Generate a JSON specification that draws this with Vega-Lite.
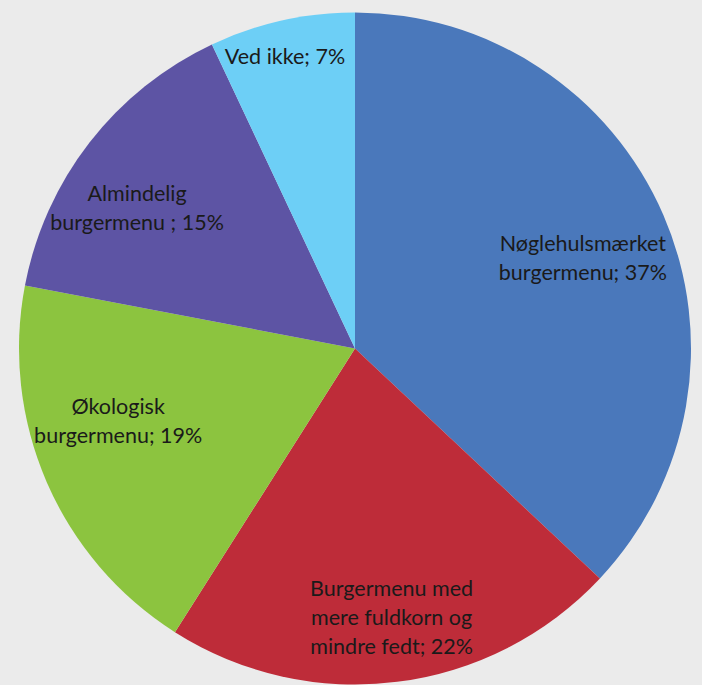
{
  "$schema": "https://vega.github.io/schema/vega-lite/v6.json",
  "width": 702,
  "height": 685,
  "autosize": {"type": "fit", "contains": "padding"},
  "padding": {"left": 8, "top": 12, "right": 0, "bottom": 0},
  "background": "#ebebeb",
  "view": {"stroke": null},
  "data": {
    "values": [
      {"kategori": "Nøglehulsmærket burgermenu", "label": "Nøglehulsmærket\nburgermenu; 37%", "andel": 37, "nr": 1},
      {"kategori": "Burgermenu med mere fuldkorn og mindre fedt", "label": "Burgermenu med\nmere fuldkorn og\nmindre fedt; 22%", "andel": 22, "nr": 2},
      {"kategori": "Økologisk burgermenu", "label": "Økologisk\nburgermenu; 19%", "andel": 19, "nr": 3},
      {"kategori": "Almindelig burgermenu", "label": "Almindelig\nburgermenu ; 15%", "andel": 15, "nr": 4},
      {"kategori": "Ved ikke", "label": "Ved ikke; 7%", "andel": 7, "nr": 5}
    ]
  },
  "transform": [
    {"stack": "andel", "groupby": [], "sort": [{"field": "nr", "order": "ascending"}], "as": ["start", "end"]},
    {"calculate": "(datum.start + datum.end) / 2", "as": "midt"}
  ],
  "layer": [
    {
      "mark": {"type": "arc", "outerRadius": 336},
      "encoding": {
        "theta": {"field": "start", "type": "quantitative", "scale": {"domain": [0, 100], "range": [0, 6.283185307179586]}},
        "theta2": {"field": "end"},
        "color": {
          "field": "kategori",
          "type": "nominal",
          "legend": null,
          "scale": {
            "domain": ["Nøglehulsmærket burgermenu", "Burgermenu med mere fuldkorn og mindre fedt", "Økologisk burgermenu", "Almindelig burgermenu", "Ved ikke"],
            "range": ["#4a78bb", "#be2c39", "#8cc43f", "#5d54a4", "#6dcff6"]
          }
        }
      }
    },
    {
      "transform": [{"filter": "datum.nr == 1"}],
      "mark": {"type": "text", "radius": 245, "lineBreak": "\n", "font": "Lato", "fontSize": 21.5, "lineHeight": 29, "color": "#1a1a1a", "align": "center", "baseline": "middle", "dx": 3, "dy": -6},
      "encoding": {"theta": {"field": "midt", "type": "quantitative", "scale": {"domain": [0, 100], "range": [0, 6.283185307179586]}}, "text": {"field": "label"}}
    },
    {
      "transform": [{"filter": "datum.nr == 2"}],
      "mark": {"type": "text", "radius": 268, "lineBreak": "\n", "font": "Lato", "fontSize": 21.5, "lineHeight": 29, "color": "#1a1a1a", "align": "center", "baseline": "middle", "dx": 3, "dy": -24},
      "encoding": {"theta": {"field": "midt", "type": "quantitative", "scale": {"domain": [0, 100], "range": [0, 6.283185307179586]}}, "text": {"field": "label"}}
    },
    {
      "transform": [{"filter": "datum.nr == 3"}],
      "mark": {"type": "text", "radius": 245, "lineBreak": "\n", "font": "Lato", "fontSize": 21.5, "lineHeight": 29, "color": "#1a1a1a", "align": "center", "baseline": "middle", "dx": -12, "dy": -38},
      "encoding": {"theta": {"field": "midt", "type": "quantitative", "scale": {"domain": [0, 100], "range": [0, 6.283185307179586]}}, "text": {"field": "label"}}
    },
    {
      "transform": [{"filter": "datum.nr == 4"}],
      "mark": {"type": "text", "radius": 272, "lineBreak": "\n", "font": "Lato", "fontSize": 21.5, "lineHeight": 29, "color": "#1a1a1a", "align": "center", "baseline": "middle", "dx": -3, "dy": 13},
      "encoding": {"theta": {"field": "midt", "type": "quantitative", "scale": {"domain": [0, 100], "range": [0, 6.283185307179586]}}, "text": {"field": "label"}}
    },
    {
      "transform": [{"filter": "datum.nr == 5"}],
      "mark": {"type": "text", "radius": 298, "lineBreak": "\n", "font": "Lato", "fontSize": 21.5, "lineHeight": 29, "color": "#1a1a1a", "align": "center", "baseline": "middle", "dx": -5},
      "encoding": {"theta": {"field": "midt", "type": "quantitative", "scale": {"domain": [0, 100], "range": [0, 6.283185307179586]}}, "text": {"field": "label"}}
    }
  ]
}
